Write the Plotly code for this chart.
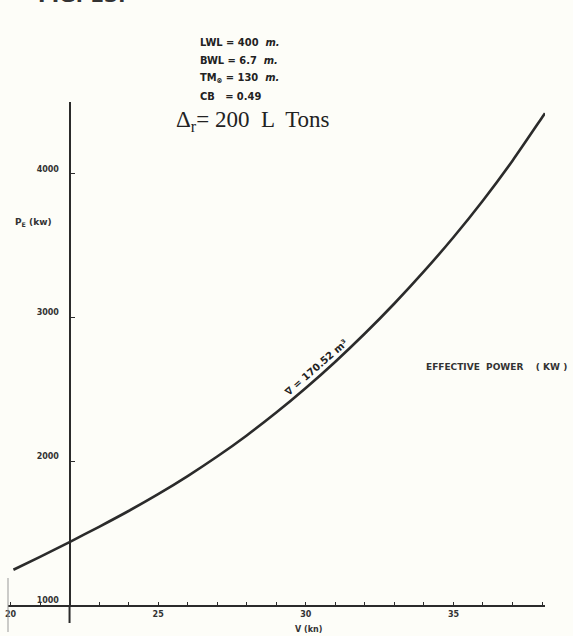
import plotly.graph_objects as go

# ---- data ----
speed_kn = [20.1, 21, 22, 23, 24, 25, 26, 27, 28, 29, 30, 31, 32, 33, 34, 35, 36, 37, 38, 38.1]
power_kw = [1245, 1335, 1438, 1544, 1654, 1771, 1897, 2033, 2180, 2339, 2510, 2693, 2889, 3098,
            3321, 3559, 3815, 4092, 4392, 4422]

x_tick_vals = [20, 25, 30, 35]
x_tick_text = ["20", "25", "30", "35"]
y_tick_vals = [1000, 2000, 3000, 4000]
y_tick_text = ["1000", "2000", "3000", "4000"]

ship_params = ["LWL = 400  <i>m.</i>", "BWL = 6.7  <i>m.</i>",
               "TM<sub>⊗</sub> = 130  <i>m.</i>", "CB   = 0.49"]
volume_label = "∇ = 170.52 m³"
title_text = "Δ<sub>r</sub>= 200  L  Tons"
series_name = "EFFECTIVE  POWER    ( KW )"

ink = "#2b2b2b"
paper = "#fdfdf8"
W, H = 573, 636
ML, MR, MT, MB = 5, 28, 102, 31
PW, PH = W - ML - MR, H - MT - MB
XR = [19.916, 38.10]
YR = [1000, 4500]
y_axis_pos = (22 - XR[0]) / (XR[1] - XR[0])


def px_x(px):
    return (px - ML) / PW


def px_y(py):
    return (H - MB - py) / PH


fig = go.Figure()
fig.add_trace(go.Scatter(
    x=speed_kn, y=power_kw, mode="lines",
    line=dict(color=ink, width=2.6, shape="spline", smoothing=0.8),
    cliponaxis=False, showlegend=False, hoverinfo="skip"))

tick_font = dict(family="DejaVu Sans", size=8, color="#333333", weight="bold")

fig.update_layout(
    width=W, height=H,
    margin=dict(l=ML, r=MR, t=MT, b=MB, pad=0),
    paper_bgcolor=paper, plot_bgcolor=paper,
    showlegend=False,
    xaxis=dict(range=XR, showgrid=False, zeroline=False,
               showline=True, linecolor=ink, linewidth=2,
               tickmode="array", tickvals=x_tick_vals, ticktext=x_tick_text,
               ticks="inside", ticklen=3, tickwidth=1, tickcolor=ink,
               minor=dict(dtick=1, tick0=20, ticks="inside", ticklen=3, tickwidth=1,
                          tickcolor=ink, showgrid=False),
               tickfont=tick_font),
    yaxis=dict(range=YR, showgrid=False, zeroline=False,
               anchor="free", position=y_axis_pos,
               showline=True, linecolor=ink, linewidth=2,
               tickmode="array", tickvals=y_tick_vals, ticktext=y_tick_text,
               ticks="inside", ticklen=4, tickwidth=1, tickcolor=ink,
               tickfont=tick_font, ticklabelstandoff=8, ticklabelshift=-5),
)

# y-axis tail below the x-axis and small left border mark
fig.add_shape(type="line", xref="paper", yref="paper",
              x0=y_axis_pos, x1=y_axis_pos, y0=0, y1=px_y(623),
              line=dict(color=ink, width=2))
fig.add_shape(type="line", xref="paper", yref="paper",
              x0=0, x1=0, y0=px_y(578), y1=px_y(632),
              line=dict(color="#999999", width=1))

ann = []
# header parameters
for i, t in enumerate(ship_params):
    ann.append(dict(text=t, xref="paper", yref="paper", x=px_x(196),
                    y=px_y(43 + i * 17.7),
                    xanchor="left", yanchor="middle", showarrow=False,
                    font=dict(family="DejaVu Sans Condensed, DejaVu Sans", size=11,
                              color="#222222", weight="bold")))
# big title
ann.append(dict(text=title_text, xref="paper", yref="paper", x=px_x(172),
                y=px_y(121), xanchor="left", yanchor="middle",
                showarrow=False, font=dict(family="Liberation Serif", size=23, color="#222222")))
# cut-off figure number at the very top
ann.append(dict(text="FIG. 13.", xref="paper", yref="paper", x=px_x(33),
                y=px_y(-5), xanchor="left", yanchor="middle",
                showarrow=False, font=dict(family="DejaVu Sans", size=20, color="#333333",
                                           weight="bold")))
# y-axis title
ann.append(dict(text="P<sub>E</sub> (kw)", xref="paper", yref="paper",
                x=px_x(10), y=px_y(222),
                xanchor="left", yanchor="middle", showarrow=False,
                font=dict(family="DejaVu Sans", size=9, color="#333333", weight="bold")))
# x-axis title
ann.append(dict(text="V (kn)", xref="paper", yref="paper",
                x=px_x(307), y=px_y(629),
                xanchor="center", yanchor="middle", showarrow=False,
                font=dict(family="DejaVu Sans", size=8, color="#333333", weight="bold")))
# series label at right
ann.append(dict(text=series_name, xref="paper", yref="paper",
                x=px_x(423), y=px_y(367),
                xanchor="left", yanchor="middle", showarrow=False,
                font=dict(family="DejaVu Sans", size=9,
                          color="#333333", weight="bold")))
# label along the curve
ann.append(dict(text=volume_label, x=30.35, y=2650, xref="x", yref="y",
                textangle=-41, showarrow=False, xanchor="center", yanchor="middle",
                font=dict(family="DejaVu Sans", size=10, color="#222222", weight="bold")))

fig.update_layout(annotations=ann)
fig.write_html("out.html", config={"displayModeBar": False},
               post_script="document.body.style.margin='0';document.body.style.overflow='hidden';")
